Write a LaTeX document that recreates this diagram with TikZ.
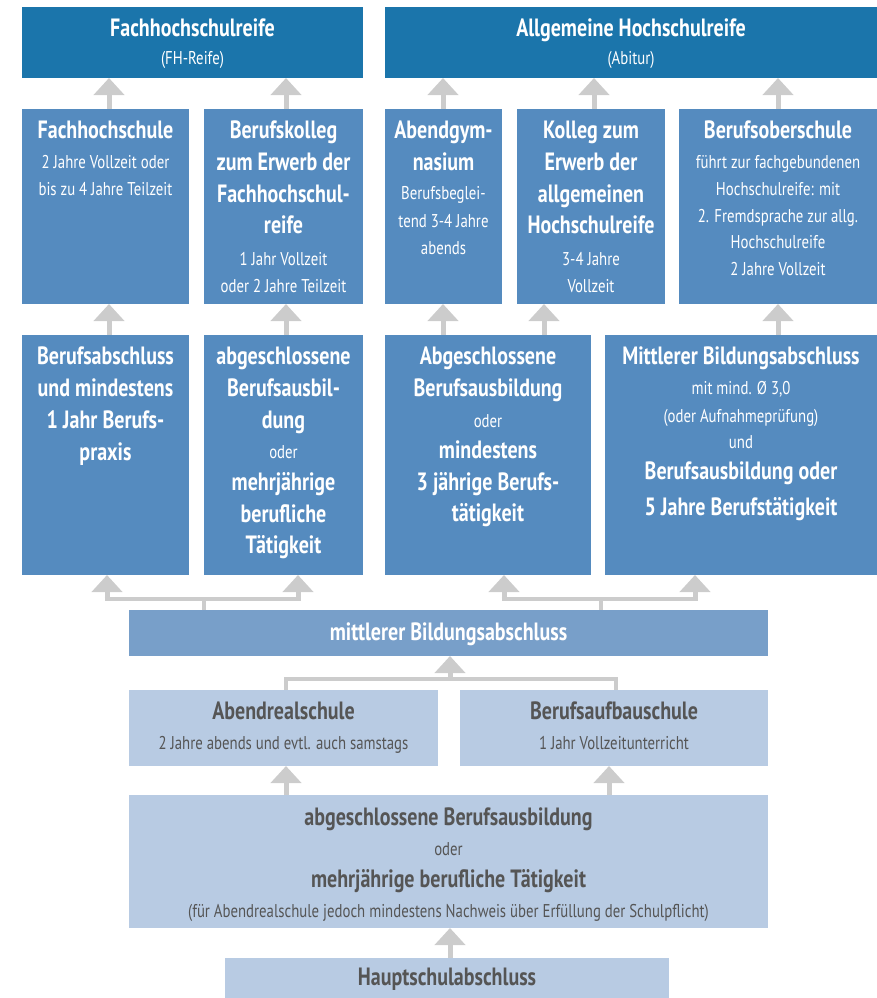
\documentclass[tikz,border=0pt]{standalone}
\usepackage{fontspec}
\setmainfont{PT Sans}[FakeStretch=0.8]
\usetikzlibrary{arrows.meta}
\definecolor{cDark}{HTML}{1B75AB}
\definecolor{cMid}{HTML}{558BBF}
\definecolor{cBar}{HTML}{789FC9}
\definecolor{cLight}{HTML}{B8CBE3}
\definecolor{cArr}{HTML}{CCCCCC}
\definecolor{cText}{HTML}{555555}
\newcounter{lnc}
\newcommand\Ln[4]{\stepcounter{lnc}\node[#1] (ln\arabic{lnc}) at (#2,#3) {#4};}
\tikzset{
  bx/.style={draw=none,inner sep=0,outer sep=0},
  dk/.style={bx,fill=cDark},
  md/.style={bx,fill=cMid},
  br/.style={bx,fill=cBar},
  lt/.style={bx,fill=cLight},
  tl/.style={anchor=base,inner sep=0,font=\fontsize{25}{28}\selectfont\bfseries},
  T/.style={tl,text=white},
  S/.style={anchor=base,inner sep=0,font=\fontsize{18.5}{21}\selectfont,text=white},
  G/.style={tl,text=cText},
  GS/.style={anchor=base,inner sep=0,font=\fontsize{18.5}{21}\selectfont,text=cText},
  arr/.style={draw=cArr,line width=5pt,-{Triangle[width=30pt,length=17pt]}},
  tree/.style={draw=cArr,line width=3.5pt},
}
\begin{document}
\begin{tikzpicture}[x=1pt,y=-1pt]
\useasboundingbox (0,0) rectangle (877,998);
% boxes
\node[dk,minimum width=341pt,minimum height=71pt] (fhr) at (192.5,42.5) {};
\node[dk,minimum width=492pt,minimum height=71pt] (ahr) at (631,42.5) {};
\node[md,minimum width=167pt,minimum height=195pt] (fhs) at (105.5,206.5) {};
\node[md,minimum width=159pt,minimum height=195pt] (bk) at (283.5,206.5) {};
\node[md,minimum width=117pt,minimum height=195pt] (ag) at (443.5,206.5) {};
\node[md,minimum width=148pt,minimum height=195pt] (kol) at (591,206.5) {};
\node[md,minimum width=198pt,minimum height=195pt] (bos) at (778,206.5) {};
\node[md,minimum width=167pt,minimum height=240pt] (ra) at (105.5,455) {};
\node[md,minimum width=159pt,minimum height=240pt] (rb) at (283.5,455) {};
\node[md,minimum width=206pt,minimum height=240pt] (rc) at (488,455) {};
\node[md,minimum width=272pt,minimum height=240pt] (rd) at (741,455) {};
\node[br,minimum width=639pt,minimum height=46pt] (mba) at (448.5,633) {};
\node[lt,minimum width=309pt,minimum height=76pt] (ars) at (283.5,728) {};
\node[lt,minimum width=308pt,minimum height=76pt] (bas) at (614,728) {};
\node[lt,minimum width=639pt,minimum height=133pt] (big) at (448.5,861.5) {};
\node[lt,minimum width=444pt,minimum height=40pt] (hsa) at (447,978) {};
% connectors row2 -> row1
\draw[arr] (109,0 |- fhs.north) -- (109,0 |- fhr.south);
\draw[arr] (286,0 |- bk.north) -- (286,0 |- fhr.south);
\draw[arr] (443,0 |- ag.north) -- (443,0 |- ahr.south);
\draw[arr] (594,0 |- kol.north) -- (594,0 |- ahr.south);
\draw[arr] (778,0 |- bos.north) -- (778,0 |- ahr.south);
% row3 -> row2
\draw[arr] (109,0 |- ra.north) -- (109,0 |- fhs.south);
\draw[arr] (286,0 |- rb.north) -- (286,0 |- bk.south);
\draw[arr] (443,0 |- rc.north) -- (443,0 |- ag.south);
\draw[arr] (544,0 |- rc.north) -- (544,0 |- kol.south);
\draw[arr] (778,0 |- rd.north) -- (778,0 |- bos.south);
% tree from mba
\coordinate (tl1) at (107,599);
\coordinate (tl2) at (298,599);
\coordinate (tr1) at (504,599);
\coordinate (tr2) at (695,599);
\draw[tree] (204,0 |- mba.north) -- (204,599);
\draw[tree] (601,0 |- mba.north) -- (601,599);
\draw[tree] ([xshift=-2.5pt]tl1) -- ([xshift=2.5pt]tl2);
\draw[tree] ([xshift=-2.5pt]tr1) -- ([xshift=2.5pt]tr2);
\draw[arr] ([yshift=1.5pt]tl1) -- (tl1 |- ra.south);
\draw[arr] ([yshift=1.5pt]tl2) -- (tl2 |- rb.south);
\draw[arr] ([yshift=1.5pt]tr1) -- (tr1 |- rc.south);
\draw[arr] ([yshift=1.5pt]tr2) -- (tr2 |- rd.south);
% tree ars/bas -> mba
\coordinate (bl) at (286,679);
\coordinate (brr) at (616,679);
\coordinate (bm) at (450,679);
\draw[tree] (bl |- ars.north) -- (bl) -- (brr) -- (brr |- bas.north);
\draw[arr] ([yshift=1.5pt]bm) -- (bm |- mba.south);
% big -> ars/bas
\draw[arr] (286,0 |- big.north) -- (286,0 |- ars.south);
\draw[arr] (609,0 |- big.north) -- (609,0 |- bas.south);
% hsa -> big
\draw[arr] (450,0 |- hsa.north) -- (450,0 |- big.south);
% texts
\Ln{T}{192.5}{37}{Fachhochschulreife}
\Ln{S}{192.5}{65}{(FH-Reife)}
\Ln{T}{631}{37}{Allgemeine Hochschulreife}
\Ln{S}{631}{65}{(Abitur)}
\Ln{T}{105.5}{138}{Fachhochschule}
\Ln{S}{105.5}{168}{2 Jahre Vollzeit oder}
\Ln{S}{105.5}{195}{bis zu 4 Jahre Teilzeit}
\Ln{T}{283.5}{138}{Berufskolleg}
\Ln{T}{283.5}{170}{zum Erwerb der}
\Ln{T}{283.5}{202}{Fachhochschul-}
\Ln{T}{283.5}{233}{reife}
\Ln{S}{283.5}{265}{1 Jahr Vollzeit}
\Ln{S}{283.5}{292}{oder 2 Jahre Teilzeit}
\Ln{T}{443.5}{138}{Abendgym-}
\Ln{T}{443.5}{170}{nasium}
\Ln{S}{443.5}{199}{Berufsbeglei-}
\Ln{S}{443.5}{227}{tend 3-4 Jahre}
\Ln{S}{443.5}{254}{abends}
\Ln{T}{591}{138}{Kolleg zum}
\Ln{T}{591}{170}{Erwerb der}
\Ln{T}{591}{202}{allgemeinen}
\Ln{T}{591}{233}{Hochschulreife}
\Ln{S}{591}{265}{3-4 Jahre}
\Ln{S}{591}{292}{Vollzeit}
\Ln{T}{778}{138}{Berufsoberschule}
\Ln{S}{778}{168}{führt zur fachgebundenen}
\Ln{S}{778}{195}{Hochschulreife: mit}
\Ln{S}{778}{222}{2. Fremdsprache zur allg.}
\Ln{S}{778}{248}{Hochschulreife}
\Ln{S}{778}{275}{2 Jahre Vollzeit}
\Ln{T}{105.5}{364}{Berufsabschluss}
\Ln{T}{105.5}{396}{und mindestens}
\Ln{T}{105.5}{428}{1 Jahr Berufs-}
\Ln{T}{105.5}{460}{praxis}
\Ln{T}{283.5}{364}{abgeschlossene}
\Ln{T}{283.5}{396}{Berufsausbil-}
\Ln{T}{283.5}{428}{dung}
\Ln{S}{283.5}{458}{oder}
\Ln{T}{283.5}{490}{mehrjährige}
\Ln{T}{283.5}{522}{berufliche}
\Ln{T}{283.5}{553}{Tätigkeit}
\Ln{T}{488}{364}{Abgeschlossene}
\Ln{T}{488}{396}{Berufsausbildung}
\Ln{S}{488}{427}{oder}
\Ln{T}{488}{458}{mindestens}
\Ln{T}{488}{490}{3 jährige Berufs-}
\Ln{T}{488}{521}{tätigkeit}
\Ln{T}{741}{364}{Mittlerer Bildungsabschluss}
\Ln{S}{741}{394}{mit mind. Ø 3,0}
\Ln{S}{741}{422}{(oder Aufnahmeprüfung)}
\Ln{S}{741}{448}{und}
\Ln{T}{741}{479}{Berufsausbildung oder}
\Ln{T}{741}{515}{5 Jahre Berufstätigkeit}
\Ln{T}{448.5}{640}{mittlerer Bildungsabschluss}
\Ln{G}{283.5}{719}{Abendrealschule}
\Ln{GS}{283.5}{749}{2 Jahre abends und evtl. auch samstags}
\Ln{G}{614}{719}{Berufsaufbauschule}
\Ln{GS}{614}{749}{1 Jahr Vollzeitunterricht}
\Ln{G}{448.5}{825}{abgeschlossene Berufsausbildung}
\Ln{GS}{448.5}{855}{oder}
\Ln{G}{448.5}{887}{mehrjährige berufliche Tätigkeit}
\Ln{GS}{448.5}{917}{(für Abendrealschule jedoch mindestens Nachweis über Erfüllung der Schulpflicht)}
\Ln{G}{447}{985}{Hauptschulabschluss}
\end{tikzpicture}
\end{document}
